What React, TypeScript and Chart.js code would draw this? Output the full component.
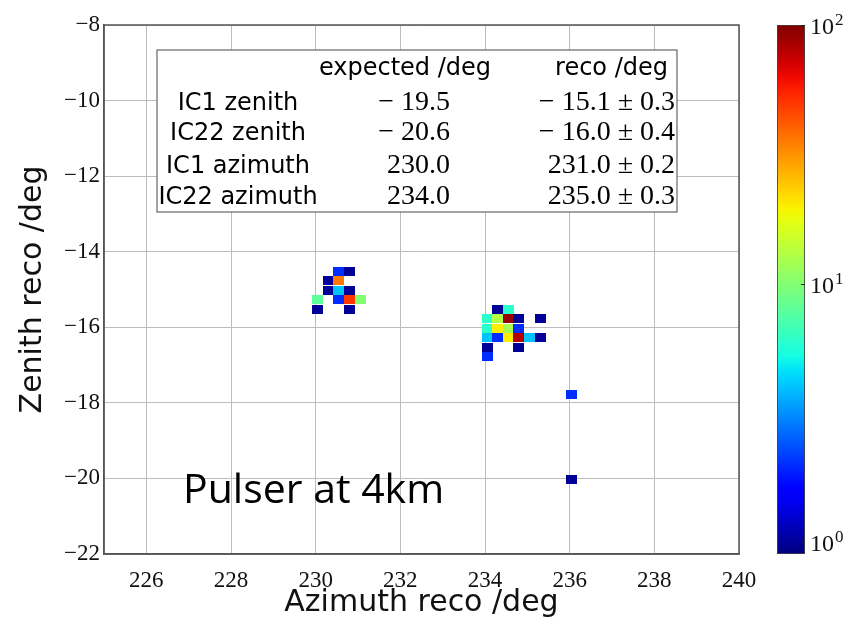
import React, { useEffect, useRef } from 'react';
import { Chart, registerables } from 'chart.js';

Chart.register(...registerables);

// ---------- data ----------
const X_TICKS = [226, 228, 230, 232, 234, 236, 238, 240];
const Y_TICKS = [-8, -10, -12, -14, -16, -18, -20, -22];

const CELL_AZIMUTH = [
  230.55, 230.8,
  230.3, 230.55,
  230.3, 230.55, 230.8,
  230.05, 230.55, 230.8, 231.05,
  230.05, 230.8,
  234.3, 234.55,
  234.05, 234.3, 234.55, 234.8, 235.3,
  234.05, 234.3, 234.55, 234.8,
  234.05, 234.3, 234.55, 234.8, 235.05, 235.3,
  234.05, 234.8,
  234.05,
  236.05,
  236.05,
];
const CELL_ZENITH = [
  -14.525, -14.525,
  -14.775, -14.775,
  -15.025, -15.025, -15.025,
  -15.275, -15.275, -15.275, -15.275,
  -15.525, -15.525,
  -15.525, -15.525,
  -15.775, -15.775, -15.775, -15.775, -15.775,
  -16.025, -16.025, -16.025, -16.025,
  -16.275, -16.275, -16.275, -16.275, -16.275, -16.275,
  -16.525, -16.525,
  -16.775,
  -17.775,
  -20.025,
];
const CELL_COUNTS = [
  2, 1,
  1, 36,
  1, 4, 1,
  8, 2, 50, 10,
  1, 1,
  1, 6,
  6, 13, 90, 1, 1,
  6, 20, 12, 2,
  4, 2, 20, 80, 4, 1,
  1, 1,
  2,
  2,
  1,
];

const CELL_W = 0.25;
const CELL_H = 0.25;

const X_TITLE = 'Azimuth reco /deg';
const Y_TITLE = 'Zenith reco /deg';
const ANNOTATION = 'Pulser at 4km';

const TABLE_HEADERS = ['expected /deg', 'reco /deg'];
const TABLE_ROWS = ['IC1 zenith', 'IC22 zenith', 'IC1 azimuth', 'IC22 azimuth'];
const TABLE_EXPECTED = ['\u2212 19.5', '\u2212 20.6', '230.0', '234.0'];
const TABLE_RECO = [
  '\u2212 15.1 \u00b1 0.3',
  '\u2212 16.0 \u00b1 0.4',
  '231.0 \u00b1 0.2',
  '235.0 \u00b1 0.3',
];

const CB_MIN = 0.9;
const CB_MAX = 100;
const CB_TICKS = [1, 10, 100];
const CB_EXPONENTS = ['0', '1', '2'];

// ---------- colour map (jet) ----------
function interp(pts: number[][], t: number) {
  for (let i = 1; i < pts.length; i++) {
    if (t <= pts[i][0]) {
      const [x0, y0] = pts[i - 1];
      const [x1, y1] = pts[i];
      return y0 + ((t - x0) / (x1 - x0)) * (y1 - y0);
    }
  }
  return pts[pts.length - 1][1];
}
function jet(t: number) {
  t = Math.max(0, Math.min(1, t));
  const r = interp([[0, 0], [0.35, 0], [0.66, 1], [0.89, 1], [1, 0.5]], t);
  const g = interp([[0, 0], [0.125, 0], [0.375, 1], [0.64, 1], [0.91, 0], [1, 0]], t);
  const b = interp([[0, 0.5], [0.11, 1], [0.34, 1], [0.65, 0], [1, 0]], t);
  return `rgb(${Math.round(r * 255)},${Math.round(g * 255)},${Math.round(b * 255)})`;
}
function countColor(v: number) {
  const t = (Math.log10(v) - Math.log10(CB_MIN)) / (Math.log10(CB_MAX) - Math.log10(CB_MIN));
  return jet(t);
}

const cellCache = new Map<string, HTMLCanvasElement>();
function cellCanvas(w: number, h: number, color: string) {
  const key = `${w}x${h}-${color}`;
  let c = cellCache.get(key);
  if (!c) {
    c = document.createElement('canvas');
    c.width = w;
    c.height = h;
    const cx = c.getContext('2d')!;
    cx.fillStyle = color;
    cx.fillRect(0, 0, w, h);
    cellCache.set(key, c);
  }
  return c;
}

const SERIF = '"Liberation Serif", "DejaVu Serif", serif';
const SANS = '"DejaVu Sans", sans-serif';

const fmtTick = (v: number) => (v < 0 ? '\u2212' + Math.abs(v) : String(v));

export default function App() {
  const mainRef = useRef<HTMLCanvasElement>(null);
  const cbRef = useRef<HTMLCanvasElement>(null);

  useEffect(() => {
    document.body.style.margin = '0';
    const cells = CELL_AZIMUTH.map((x, i) => ({ x, y: CELL_ZENITH[i], v: CELL_COUNTS[i] }));

    const overlay = {
      id: 'overlay',
      afterDatasetsDraw(chart: any) {
        const { ctx, chartArea: a } = chart;
        ctx.save();
        // frame
        ctx.strokeStyle = '#555';
        ctx.lineWidth = 1.5;
        ctx.strokeRect(a.left, a.top, a.right - a.left, a.bottom - a.top);

        // annotation
        ctx.fillStyle = '#000';
        ctx.font = '41px "Open Sans", sans-serif';
        ctx.textAlign = 'left';
        ctx.textBaseline = 'alphabetic';
        ctx.fillText(ANNOTATION, a.left + 79, a.top + 478);

        // table box
        const bx = a.left + 53, by = a.top + 25, bw = 520, bh = 162;
        ctx.fillStyle = '#fff';
        ctx.fillRect(bx, by, bw, bh);
        ctx.strokeStyle = '#666';
        ctx.lineWidth = 1.2;
        ctx.strokeRect(bx, by, bw, bh);

        ctx.fillStyle = '#000';
        ctx.font = `24px ${SANS}`;
        ctx.textAlign = 'center';
        ctx.fillText(TABLE_HEADERS[0], bx + 248, by + 25);
        ctx.textAlign = 'right';
        ctx.fillText(TABLE_HEADERS[1], bx + 511, by + 25);

        const rowBase = [by + 60, by + 90, by + 122.5, by + 154];
        TABLE_ROWS.forEach((label, i) => {
          ctx.font = `24px ${SANS}`;
          ctx.textAlign = 'center';
          ctx.fillText(label, bx + 81, rowBase[i]);
          ctx.font = `28px ${SERIF}`;
          ctx.textAlign = 'right';
          ctx.fillText(TABLE_EXPECTED[i], bx + 293, rowBase[i]);
          ctx.fillText(TABLE_RECO[i], bx + 518, rowBase[i]);
        });
        ctx.restore();
      },
    };

    const main = new Chart(mainRef.current!, {
      type: 'scatter',
      data: {
        datasets: [
          {
            data: cells as any,
            pointRadius: 5,
            pointStyle: ((ctx: any) => {
              const raw = ctx.raw;
              const chart = ctx.chart;
              if (!raw || !chart.scales || !chart.scales.x) return 'rect';
              const xs = chart.scales.x;
              const ys = chart.scales.y;
              const w = Math.abs(xs.getPixelForValue(raw.x + CELL_W / 2) - xs.getPixelForValue(raw.x - CELL_W / 2));
              const h = Math.abs(ys.getPixelForValue(raw.y - CELL_H / 2) - ys.getPixelForValue(raw.y + CELL_H / 2));
              return cellCanvas(Math.round(w), Math.round(h), countColor(raw.v));
            }) as any,
          },
        ],
      },
      options: {
        animation: false,
        responsive: false,
        maintainAspectRatio: false,
        devicePixelRatio: 1,
        layout: { padding: { top: 25, right: 107, left: 0, bottom: 0 } },
        plugins: { legend: { display: false }, tooltip: { enabled: false } },
        scales: {
          x: {
            type: 'linear',
            min: 225,
            max: 240,
            afterBuildTicks: (s: any) => {
              s.ticks = X_TICKS.map((value) => ({ value }));
            },
            afterFit: (s: any) => {
              s.height = 70;
            },
            grid: { color: '#bdbdbd', lineWidth: 1, drawTicks: false },
            border: { color: '#555', width: 1.5 },
            ticks: {
              padding: 13,
              color: '#111',
              font: { family: SERIF, size: 23 },
              maxRotation: 0,
              autoSkip: false,
              callback: (v: any) => fmtTick(Number(v)),
            },
            title: {
              display: true,
              text: X_TITLE,
              color: '#111',
              font: { family: SANS, size: 30 },
              padding: { top: 0, bottom: 3 },
            },
          },
          y: {
            type: 'linear',
            min: -22,
            max: -8,
            afterBuildTicks: (s: any) => {
              s.ticks = Y_TICKS.map((value) => ({ value }));
            },
            afterFit: (s: any) => {
              s.width = 104;
            },
            grid: { color: '#bdbdbd', lineWidth: 1, drawTicks: false },
            border: { color: '#555', width: 1.5 },
            ticks: {
              padding: 4,
              color: '#111',
              font: { family: SERIF, size: 23 },
              autoSkip: false,
              callback: (v: any) => fmtTick(Number(v)),
            },
            title: {
              display: true,
              text: Y_TITLE,
              color: '#111',
              font: { family: SANS, size: 30 },
              padding: { top: 15, bottom: 0 },
            },
          },
        },
      },
      plugins: [overlay],
    });

    const cbLabels = {
      id: 'cbLabels',
      afterDatasetsDraw(chart: any) {
        const { ctx, chartArea: a } = chart;
        const ys = chart.scales.y;
        ctx.save();
        ctx.strokeStyle = '#222';
        ctx.lineWidth = 1;
        ctx.fillStyle = '#111';
        ctx.textBaseline = 'alphabetic';
        ctx.textAlign = 'left';
        CB_TICKS.forEach((v, i) => {
          const y = ys.getPixelForValue(v);
          ctx.beginPath();
          ctx.moveTo(a.right - 4, Math.round(y) + 0.5);
          ctx.lineTo(a.right, Math.round(y) + 0.5);
          ctx.stroke();
          ctx.font = `24px ${SERIF}`;
          ctx.fillText('10', a.right + 5, y + 9);
          const w = ctx.measureText('10').width;
          ctx.font = `17px ${SERIF}`;
          ctx.fillText(CB_EXPONENTS[i], a.right + 6 + w, y);
        });
        ctx.restore();
      },
    };

    const cb = new Chart(cbRef.current!, {
      type: 'bar',
      data: {
        labels: [''],
        datasets: [
          {
            data: [[CB_MIN, CB_MAX]] as any,
            backgroundColor: ((ctx: any) => {
              const a = ctx.chart.chartArea;
              if (!a) return '#888';
              const g = ctx.chart.ctx.createLinearGradient(0, a.bottom, 0, a.top);
              const n = 40;
              for (let i = 0; i <= n; i++) g.addColorStop(i / n, jet(i / n));
              return g;
            }) as any,
            borderColor: '#444',
            borderWidth: 1.2,
            borderSkipped: false,
            barPercentage: 1,
            categoryPercentage: 1,
          },
        ],
      },
      options: {
        animation: false,
        responsive: false,
        maintainAspectRatio: false,
        devicePixelRatio: 1,
        layout: { padding: { top: 25, right: 0, left: 777, bottom: 70 } },
        plugins: { legend: { display: false }, tooltip: { enabled: false } },
        scales: {
          x: { display: false },
          y: {
            type: 'logarithmic',
            position: 'right',
            min: CB_MIN,
            max: CB_MAX,
            afterFit: (s: any) => {
              s.width = 41;
            },
            ticks: { display: false },
            grid: { display: false },
            border: { display: false },
          },
        },
      },
      plugins: [cbLabels],
    });

    return () => {
      main.destroy();
      cb.destroy();
    };
  }, []);

  return (
    <div style={{ position: 'fixed', left: 0, top: 0, width: 846, height: 624, background: '#fff', overflow: 'hidden' }}>
      <canvas ref={mainRef} width={846} height={624} style={{ position: 'absolute', left: 0, top: 0, width: 846, height: 624 }} />
      <canvas ref={cbRef} width={846} height={624} style={{ position: 'absolute', left: 0, top: 0, width: 846, height: 624 }} />
    </div>
  );
}
